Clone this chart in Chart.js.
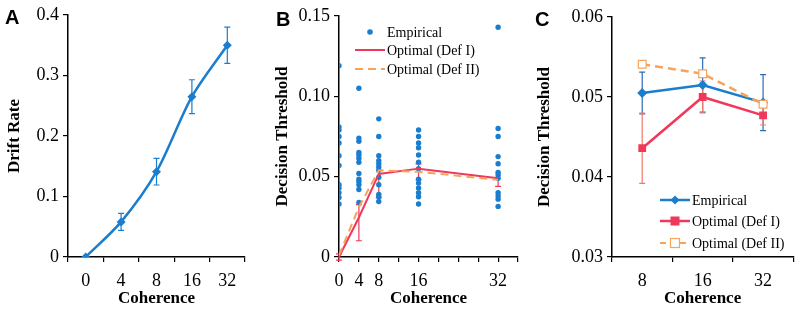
<!DOCTYPE html>
<html lang="en">
<head>
  <meta charset="UTF-8">
  <title>Drift rate and decision threshold</title>
  <script src="https://cdn.jsdelivr.net/npm/chart.js"></script>
  <style>
    body { margin: 0; background: #fff; }
    .panel { position: absolute; top: 0; }
    .letter { position: absolute; font: bold 20px 'Liberation Sans', Arial, sans-serif; line-height: 20px; color: #000; }
  </style>
</head>
<body>
  <div class="panel" style="left:0"><canvas id="chartA" width="268" height="311"></canvas></div>
  <div class="panel" style="left:268px"><canvas id="chartB" width="262" height="311"></canvas></div>
  <div class="panel" style="left:530px"><canvas id="chartC" width="270" height="311"></canvas></div>
  <div class="letter" style="left:5px;top:7px">A</div>
  <div class="letter" style="left:276px;top:9px">B</div>
  <div class="letter" style="left:535px;top:9px">C</div>
  <script>
    // panel A: drift rate
    const cohA = ['0', '4', '8', '16', '32'];
    const driftRate = [0, 0.058, 0.141, 0.265, 0.35];
    const driftErr = [0, 0.014, 0.022, 0.028, 0.03];

    // panel B: individual thresholds per coherence
    const cohB = [0, 4, 8, 16, 32];
    const emp0 = [0.119, 0.081, 0.079, 0.075, 0.071, 0.063, 0.057, 0.045, 0.043, 0.040, 0.037, 0.033];
    const emp4 = [0.105, 0.074, 0.072, 0.065, 0.0635, 0.0615, 0.059, 0.052, 0.0485, 0.047, 0.045, 0.042, 0.034];
    const emp8 = [0.086, 0.075, 0.063, 0.060, 0.058, 0.056, 0.054, 0.0496, 0.045, 0.039, 0.0375, 0.0345];
    const emp16 = [0.079, 0.075, 0.071, 0.068, 0.0635, 0.059, 0.055, 0.0485, 0.046, 0.043, 0.040, 0.0375, 0.033];
    const emp32 = [0.143, 0.080, 0.075, 0.0625, 0.058, 0.0527, 0.051, 0.049, 0.040, 0.038, 0.036, 0.0315];
    const optB1 = [0, 0.0246, 0.0517, 0.055, 0.049];
    const optB1Up = [0.002, 0.008, 0, 0.003, 0];
    const optB1Down = [0.002, 0.0145, 0.0147, 0.007, 0.005];
    const optB2 = [0.001, 0.031, 0.054, 0.053, 0.048];

    // panel C: mean thresholds
    const cohC = ['8', '16', '32'];
    const empC = [0.0505, 0.0515, 0.0493];
    const empCErr = [0.0026, 0.0034, 0.0035];
    const optC1 = [0.0436, 0.0500, 0.0477];
    const optC1Err = [0.0044, 0.002, 0.0012];
    const optC2 = [0.0541, 0.0529, 0.0491];

    const blue = '#1b7dcd';
    const red = '#f0385a';
    const orange = '#f7a35c';
    const serif = "'Liberation Serif', 'Times New Roman', serif";

    Chart.defaults.font.family = serif;
    Chart.defaults.color = '#000';
    Chart.defaults.animation = false;

    // error bars, drawn under the lines
    const errorBars = {
      id: 'errorBars',
      beforeDatasetsDraw(chart) {
        const ctx = chart.ctx;
        const yScale = chart.scales.y;
        chart.data.datasets.forEach((ds, i) => {
          const up = ds.errUp || ds.err;
          const down = ds.errDown || ds.err;
          if (!up) return;
          const meta = chart.getDatasetMeta(i);
          ctx.save();
          ctx.setLineDash([]);
          ctx.strokeStyle = ds.errColor || ds.borderColor;
          ctx.lineWidth = 1.2;
          meta.data.forEach((pt, j) => {
            if (!up[j] && !down[j]) return;
            const d = ds.data[j];
            const v = typeof d === 'object' ? d.y : d;
            const yHi = yScale.getPixelForValue(v + up[j]);
            const yLo = yScale.getPixelForValue(v - down[j]);
            ctx.beginPath();
            ctx.moveTo(pt.x, yHi); ctx.lineTo(pt.x, yLo);
            if (up[j]) { ctx.moveTo(pt.x - 3, yHi); ctx.lineTo(pt.x + 3, yHi); }
            if (down[j]) { ctx.moveTo(pt.x - 3, yLo); ctx.lineTo(pt.x + 3, yLo); }
            ctx.stroke();
          });
          ctx.restore();
        });
      }
    };

    // small legend drawn inside the plot area
    const innerLegend = {
      id: 'innerLegend',
      afterDraw(chart, args, opts) {
        if (!opts.rows) return;
        const ctx = chart.ctx;
        const a = chart.chartArea;
        const x0 = a.left + opts.x0, x1 = a.left + opts.x1, tx = a.left + opts.tx;
        ctx.save();
        opts.rows.forEach(r => {
          const y = a.top + r.y;
          ctx.strokeStyle = r.color;
          ctx.fillStyle = r.color;
          if (r.line) {
            ctx.lineWidth = r.width || 2;
            ctx.setLineDash(r.dash || []);
            ctx.beginPath();
            ctx.moveTo(x0, y); ctx.lineTo(x1, y);
            ctx.stroke();
            ctx.setLineDash([]);
          }
          const cx = (x0 + x1) / 2;
          if (r.point === 'dot') {
            ctx.beginPath(); ctx.arc(cx, y, 2.8, 0, Math.PI * 2); ctx.fill();
          } else if (r.point === 'diamond') {
            ctx.beginPath();
            ctx.moveTo(cx, y - 4.5); ctx.lineTo(cx + 4.5, y); ctx.lineTo(cx, y + 4.5); ctx.lineTo(cx - 4.5, y);
            ctx.closePath(); ctx.fill();
          } else if (r.point === 'square') {
            ctx.fillRect(cx - 4.5, y - 4.5, 9, 9);
          } else if (r.point === 'open') {
            ctx.fillStyle = '#fff';
            ctx.fillRect(cx - 4.5, y - 4.5, 9, 9);
            ctx.lineWidth = 1.2;
            ctx.strokeRect(cx - 4.5, y - 4.5, 9, 9);
          }
          ctx.fillStyle = '#000';
          ctx.font = '14px ' + serif;
          ctx.textBaseline = 'middle';
          ctx.fillText(r.label, tx, y + 1);
        });
        ctx.restore();
      }
    };

    function axisX(extra) {
      return Object.assign({
        offset: true,
        grid: { display: true, drawOnChartArea: false, drawTicks: true, tickLength: 5, offset: true, color: '#000', lineWidth: 1.2 },
        border: { color: '#000', width: 1.5 },
        ticks: { font: { size: 18 }, padding: 8, color: '#000', maxRotation: 0, autoSkip: false },
        title: { display: true, text: 'Coherence', font: { size: 17, weight: 'bold' }, padding: { top: 0, bottom: 2 }, color: '#000' },
        afterFit: s => { s.height = 54; }
      }, extra);
    }

    function axisY(width, extra) {
      return Object.assign({
        grid: { display: true, drawOnChartArea: false, drawTicks: true, tickLength: 5, color: '#000', lineWidth: 1.2 },
        border: { color: '#000', width: 1.5 },
        afterFit: s => { s.width = width; }
      }, extra);
    }

    function yTitle(text) {
      return { display: true, text: text, font: { size: 17, weight: 'bold' }, padding: { top: 4, bottom: 4 }, color: '#000' };
    }

    // A
    new Chart(document.getElementById('chartA'), {
      type: 'line',
      data: {
        labels: cohA,
        datasets: [{
          data: driftRate,
          err: driftErr,
          borderColor: blue,
          backgroundColor: blue,
          borderWidth: 2.5,
          tension: 0.3,
          pointStyle: 'rectRot',
          pointRadius: 4.5,
          pointBorderWidth: 0
        }]
      },
      options: {
        responsive: false,
        layout: { padding: { left: 0, right: 23, top: 15, bottom: 0 } },
        plugins: { legend: { display: false }, tooltip: { enabled: false } },
        scales: {
          x: axisX({ type: 'category' }),
          y: axisY(68, {
            min: 0, max: 0.4,
            ticks: { stepSize: 0.1, font: { size: 18 }, padding: 4, color: '#000' },
            title: yTitle('Drift Rate')
          })
        }
      },
      plugins: [errorBars]
    });

    // B
    const empPoints = [];
    [emp0, emp4, emp8, emp16, emp32].forEach((col, i) => {
      col.forEach(v => empPoints.push({ x: cohB[i], y: v }));
    });
    new Chart(document.getElementById('chartB'), {
      type: 'scatter',
      data: {
        datasets: [
          {
            label: 'Optimal (Def I)',
            type: 'line',
            data: cohB.map((c, i) => ({ x: c, y: optB1[i] })),
            errUp: optB1Up,
            errDown: optB1Down,
            borderColor: red,
            borderWidth: 2,
            pointRadius: 0,
            order: 1
          },
          {
            label: 'Optimal (Def II)',
            type: 'line',
            data: cohB.map((c, i) => ({ x: c, y: optB2[i] })),
            borderColor: orange,
            borderWidth: 2,
            borderDash: [8, 5],
            pointRadius: 0,
            order: 0
          },
          {
            label: 'Empirical',
            data: empPoints,
            backgroundColor: blue,
            borderWidth: 0,
            pointRadius: 2.7,
            order: 2
          }
        ]
      },
      options: {
        responsive: false,
        layout: { padding: { left: 0, right: 12, top: 16, bottom: 0 } },
        plugins: {
          legend: { display: false },
          tooltip: { enabled: false },
          innerLegend: {
            x0: 16, x1: 46, tx: 48,
            rows: [
              { y: 16, label: 'Empirical', color: blue, point: 'dot' },
              { y: 34, label: 'Optimal (Def I)', color: red, line: true },
              { y: 53, label: 'Optimal (Def II)', color: orange, line: true, dash: [8, 5] }
            ]
          }
        },
        scales: {
          x: axisX({
            type: 'linear', min: 0, max: 36, offset: false,
            grid: { display: true, drawOnChartArea: false, drawTicks: true, tickLength: 5, color: '#000', lineWidth: 1.2 },
            ticks: {
              stepSize: 4, font: { size: 18 }, padding: 8, color: '#000', maxRotation: 0, autoSkip: false,
              callback: v => (cohB.includes(v) ? String(v) : '')
            }
          }),
          y: axisY(71, {
            min: 0, max: 0.15,
            ticks: { stepSize: 0.05, font: { size: 18 }, padding: 4, color: '#000', callback: v => (v === 0 ? '0' : v.toFixed(2)) },
            title: yTitle('Decision Threshold')
          })
        }
      },
      plugins: [errorBars, innerLegend]
    });

    // C
    new Chart(document.getElementById('chartC'), {
      type: 'line',
      data: {
        labels: cohC,
        datasets: [
          {
            label: 'Empirical',
            data: empC,
            err: empCErr,
            errColor: '#2a6db5',
            borderColor: blue,
            backgroundColor: blue,
            borderWidth: 2.5,
            pointStyle: 'rectRot',
            pointRadius: 5,
            pointBorderWidth: 0,
            order: 1
          },
          {
            label: 'Optimal (Def I)',
            data: optC1,
            err: optC1Err,
            errColor: '#f07a6a',
            borderColor: red,
            backgroundColor: red,
            borderWidth: 2.5,
            pointStyle: 'rect',
            pointRadius: 5.5,
            pointBorderWidth: 0,
            order: 2
          },
          {
            label: 'Optimal (Def II)',
            data: optC2,
            borderColor: orange,
            backgroundColor: '#fff',
            borderWidth: 2.5,
            borderDash: [8, 5],
            pointStyle: 'rect',
            pointRadius: 5.5,
            pointBorderWidth: 1.2,
            order: 0
          }
        ]
      },
      options: {
        responsive: false,
        layout: { padding: { left: 0, right: 5, top: 17, bottom: 0 } },
        plugins: {
          legend: { display: false },
          tooltip: { enabled: false },
          innerLegend: {
            x0: 48, x1: 78, tx: 80,
            rows: [
              { y: 183, label: 'Empirical', color: blue, line: true, width: 2.5, point: 'diamond' },
              { y: 204, label: 'Optimal (Def I)', color: red, line: true, width: 2.5, point: 'square' },
              { y: 226, label: 'Optimal (Def II)', color: orange, line: true, width: 2, dash: [6, 4], point: 'open' }
            ]
          }
        },
        scales: {
          x: axisX({ type: 'category' }),
          y: axisY(82, {
            min: 0.03, max: 0.06,
            ticks: { stepSize: 0.01, font: { size: 18 }, padding: 4, color: '#000', callback: v => v.toFixed(2) },
            title: yTitle('Decision Threshold')
          })
        }
      },
      plugins: [errorBars, innerLegend]
    });
  </script>
</body>
</html>
